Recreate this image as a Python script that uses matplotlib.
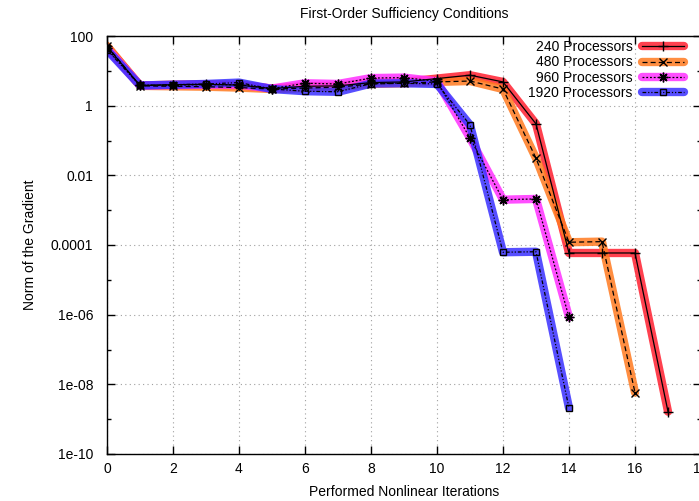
import matplotlib
matplotlib.use("Agg")
import matplotlib.pyplot as plt
from matplotlib.ticker import FixedLocator, FixedFormatter, NullFormatter
import numpy as np

plt.rcParams['font.family'] = ['Liberation Sans', 'DejaVu Sans']

labels = ["240 Processors", "480 Processors", "960 Processors", "1920 Processors"]

grad_240 = [50, 3.8, 4.0, 4.1, 3.9, 3.1, 3.6, 3.7, 4.6, 4.8, 6.0, 7.5, 4.8, 0.30,
            5.9e-5, 5.9e-5, 5.9e-5, 1.65e-9]
grad_480 = [52, 3.7, 3.6, 3.5, 3.3, 3.0, 3.2, 3.4, 4.2, 4.4, 4.8, 5.1, 3.0, 0.031,
            1.2e-4, 1.25e-4, 5.8e-9]
grad_960 = [44, 3.8, 3.9, 4.0, 4.0, 3.1, 4.4, 4.2, 6.2, 6.4, 5.0, 0.118, 2.0e-3, 2.1e-3,
            8.4e-7]
grad_1920 = [40, 3.8, 4.0, 4.2, 4.6, 3.0, 2.6, 2.5, 4.3, 4.4, 4.2, 0.28, 6.2e-5, 6.4e-5,
             2.1e-9]

series = [grad_240, grad_480, grad_960, grad_1920]
band_colors = ["#ff2030", "#ff7a20", "#ff30ff", "#3a30ff"]
line_styles = ["-", (0, (4, 2.5)), (0, (1.5, 1.5)), (0, (3, 1.5, 1, 1.5, 1, 1.5))]
markers = ["+", "x", (8, 2, 0), "s"]
marker_sizes = [7, 6, 7, 5]

y_ticks = [1e2, 1, 1e-2, 1e-4, 1e-6, 1e-8, 1e-10]
y_tick_labels = ["100", "1", "0.01", "0.0001", "1e-06", "1e-08", "1e-10"]
y_minor = [1e1, 1e-1, 1e-3, 1e-5, 1e-7, 1e-9]
x_ticks = list(range(0, 20, 2))
x_tick_labels = [str(v) for v in x_ticks]

W, H = 699, 501
fig = plt.figure(figsize=(W / 100, H / 100), dpi=100)
ax = fig.add_axes([107 / W, 1 - 454 / H, (701 - 107) / W, (454 - 36) / H])

handles = []
for vals, col in zip(series, band_colors):
    it = np.arange(len(vals))
    band, = ax.plot(it, vals, color=col, lw=6, alpha=0.85, solid_joinstyle="round",
                    solid_capstyle="round", zorder=2)
    handles.append([band])
for h, vals, ls, mk, ms in zip(handles, series, line_styles, markers, marker_sizes):
    it = np.arange(len(vals))
    thin, = ax.plot(it, vals, color="black", lw=0.9, ls=ls, marker=mk, ms=ms,
                    mfc="none", mec="black", mew=1.0, zorder=3)
    h.append(thin)

ax.set_yscale("log")
ax.set_xlim(0, 18)
ax.set_ylim(1e-10, 1e2)
ax.yaxis.set_major_locator(FixedLocator(y_ticks))
ax.yaxis.set_major_formatter(FixedFormatter(y_tick_labels))
ax.yaxis.set_minor_locator(FixedLocator(y_minor))
ax.yaxis.set_minor_formatter(NullFormatter())
ax.xaxis.set_major_locator(FixedLocator(x_ticks))
ax.xaxis.set_major_formatter(FixedFormatter(x_tick_labels))

ax.grid(True, which="major", color="#a0a0a0", ls=(0, (1, 3)), lw=0.8)
ax.tick_params(which="both", direction="in", top=True, right=True, labelsize=10,
               width=1.0, colors="black")
ax.tick_params(axis="y", pad=10)
ax.tick_params(axis="x", pad=6)
ax.tick_params(which="major", length=6)
ax.tick_params(which="minor", length=3)
for s in ax.spines.values():
    s.set_linewidth(1.0)

ax.set_xlabel("Performed Nonlinear Iterations", fontsize=10, labelpad=6)
ax.set_ylabel("Norm of the Gradient", fontsize=10, labelpad=10)
fig.text(0.5 * (107 + 701) / W, 1 - 14 / H, "First-Order Sufficiency Conditions",
         ha="center", va="center", fontsize=10)

leg = fig.legend([tuple(h) for h in handles], labels, loc="upper right",
                 bbox_to_anchor=(684 / W, 1 - 40 / H), markerfirst=False, frameon=False,
                 fontsize=10, handlelength=3.0, handletextpad=0.7, labelspacing=0.1,
                 borderpad=0, borderaxespad=0)

fig.savefig("out.png", dpi=100)
